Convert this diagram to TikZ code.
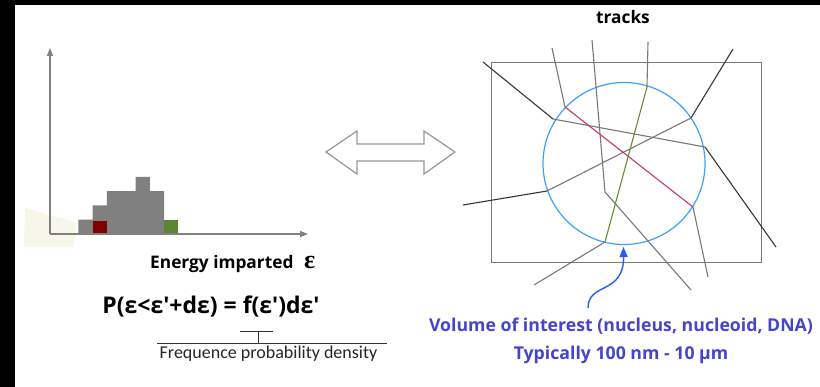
\documentclass[tikz,border=0pt]{standalone}
\usepackage{fontspec}
\setmainfont{Carlito}
\newfontfamily\boldsans{Open Sans}
\newfontfamily\epsfont{Liberation Serif}
\usetikzlibrary{arrows.meta}
\definecolor{histgray}{RGB}{128,128,128}
\definecolor{axisgray}{RGB}{128,128,128}
\definecolor{beigebg}{RGB}{247,246,234}
\definecolor{barred}{RGB}{128,0,0}
\definecolor{bargreen}{RGB}{90,135,45}
\definecolor{circblue}{RGB}{60,160,255}
\definecolor{trkdark}{RGB}{55,55,55}
\definecolor{trkgray}{RGB}{120,120,120}
\definecolor{trkred}{RGB}{190,60,95}
\definecolor{trkgreen}{RGB}{100,140,50}
\definecolor{arrblue}{RGB}{40,90,255}
\definecolor{voltext}{RGB}{68,68,204}
\definecolor{dblgray}{RGB}{150,150,150}
\tikzset{
  axisline/.style={draw=axisgray,line width=1.2pt,-{Triangle[length=8pt,width=6pt]}},
  trackdark/.style={draw=trkdark,line width=1.1pt},
  trackgray/.style={draw=trkgray,line width=1.1pt},
  trackred/.style={draw=trkred,line width=1.1pt},
  trackgreen/.style={draw=trkgreen,line width=1.1pt},
  boldlbl/.style={font=\fontsize{17.3}{17.3}\selectfont\boldsans\bfseries,inner sep=0pt},
  vollbl/.style={font=\fontsize{17.7}{17.7}\selectfont\boldsans\bfseries,inner sep=0pt,text=voltext},
}
\begin{document}
\begin{tikzpicture}[x=1pt,y=-1pt]
\useasboundingbox (0,0) rectangle (820,387);
\fill[white] (0,0) rectangle (820,387);
% black borders
\fill[black] (0,0) rectangle (820,5);
\fill[black] (0,0) rectangle (15,387);
% beige patch
\fill[beigebg] (25,208) -- (77,223) -- (73,247) -- (24,247) -- cycle;
% histogram
\fill[histgray] (78.3,234) -- (78.3,219.7) -- (92.6,219.7) -- (92.6,205.4) -- (106.9,205.4) -- (106.9,191.1) -- (135.5,191.1) -- (135.5,176.8) -- (149.8,176.8) -- (149.8,191.1) -- (164.1,191.1) -- (164.1,234) -- cycle;
\fill[bargreen] (164.4,220.4) rectangle (178.2,234);
\fill[barred] (93.3,220.7) rectangle (106.7,234);
% axes
\coordinate (o) at (50,234);
\coordinate (ytip) at (50,48);
\coordinate (xtip) at (308,234);
\draw[axisline] (o) -- (ytip);
\draw[axisline] (o) -- (xtip);
% labels left
\node[boldlbl,anchor=base west] (elbl) at (150,268.3) {Energy imparted};
\node[inner sep=0pt,anchor=base west,font=\fontsize{26}{26}\selectfont\epsfont\bfseries] (eps) at (304,268.3) {ε};
\node[inner sep=0pt,anchor=base,font=\fontsize{23}{23}\selectfont\boldsans\bfseries] (formula) at (211,313.3) {P(ε<ε'+dε) = f(ε')dε'};
\coordinate (bs1) at (240,331.7);
\coordinate (bs2) at (273,331.7);
\coordinate (bm) at (258.7,331.7);
\coordinate (bb) at (258.7,343.3);
\coordinate (bl1) at (156.7,343.3);
\coordinate (bl2) at (386.7,343.3);
\draw[black!80,line width=1pt] (bs1) -- (bs2) (bm) -- (bb) (bl1) -- (bl2);
\node[inner sep=0pt,anchor=base,font=\fontsize{18}{18}\selectfont,text=black!85] (freq) at (268.5,358.3) {Frequence probability density};
% double arrow
\draw[draw=dblgray,fill=white,line width=1.2pt,line join=miter]
  (326,152) -- (357,131) -- (357,144) -- (424,144) -- (424,131) -- (455,152) -- (424,174) -- (424,161) -- (357,161) -- (357,174) -- cycle;
% right panel
\node[boldlbl,anchor=base] (tracks) at (623,24) {tracks};
\draw[draw=trkgray,line width=1.2pt] (491.7,62.3) rectangle (761.7,262.5);
\node[draw=circblue,circle,line width=1.2pt,minimum size=162pt,inner sep=0pt] (voi) at (624,163.5) {};
% track 1
\coordinate (a1) at (483,62); \coordinate (a2) at (553,119); \coordinate (a3) at (705,147); \coordinate (a4) at (776,247);
\draw[trackdark] (a1) -- (a2); \draw[trackgray] (a2) -- (a3); \draw[trackdark] (a3) -- (a4);
% track 2
\coordinate (b1) at (733,49); \coordinate (b2) at (691,118); \coordinate (b3) at (547,191); \coordinate (b4) at (463,205);
\draw[trackdark] (b1) -- (b2); \draw[trackgray] (b2) -- (b3); \draw[trackdark] (b3) -- (b4);
% track 3
\coordinate (c1) at (552,48); \coordinate (c2) at (565,107); \coordinate (c3) at (693,207); \coordinate (c4) at (708,277);
\draw[trackgray] (c1) -- (c2); \draw[trackred] (c2) -- (c3); \draw[trackgray] (c3) -- (c4);
% track 4
\coordinate (d1) at (592,40); \coordinate (d2) at (605,192); \coordinate (d3) at (691,290);
\draw[trackgray] (d1) -- (d2) -- (d3);
% track 5
\coordinate (e1) at (648,42); \coordinate (e2) at (647,87); \coordinate (e3) at (605,242); \coordinate (e4) at (534,285);
\draw[trackgray] (e1) -- (e2); \draw[trackgreen] (e2) -- (e3); \draw[trackgray] (e3) -- (e4);
% blue arrow
\coordinate (vstart) at (588,308);
\coordinate (vtip) at (623.5,247);
\draw[arrblue,line width=1.4pt,-{Triangle[length=10pt,width=8pt]}] (vstart) .. controls (588,282) and (624,295) .. (vtip);
\node[vollbl,anchor=base] (vol) at (621,331.7) {Volume of interest (nucleus, nucleoid, DNA)};
\node[vollbl,anchor=base] (typ) at (621,360) {Typically 100 nm - 10 µm};
\end{tikzpicture}
\end{document}
